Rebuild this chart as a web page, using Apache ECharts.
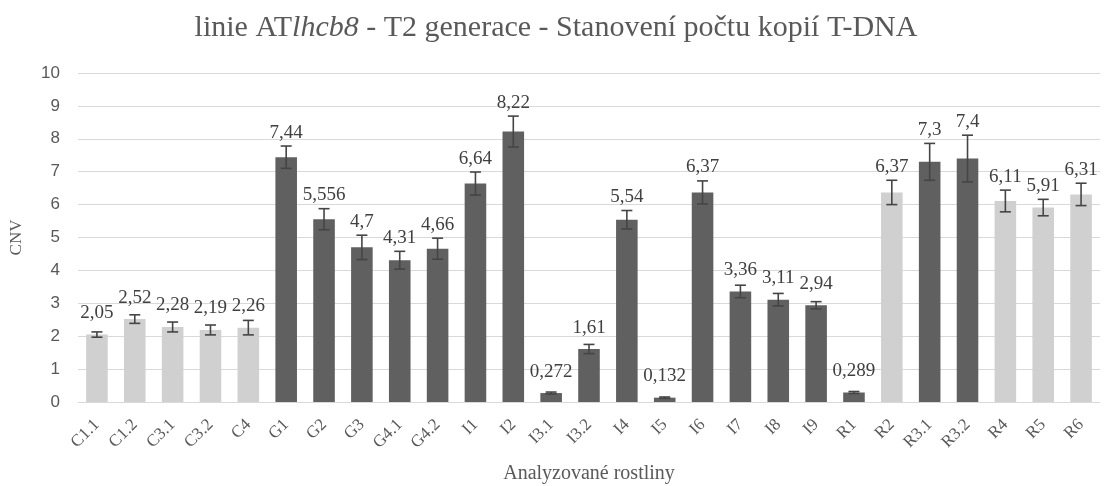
<!DOCTYPE html>
<html>
<head>
<meta charset="utf-8">
<script src="https://cdn.jsdelivr.net/npm/echarts@6/dist/echarts.min.js"></script>
<style>html,body{margin:0;padding:0;background:#fff;}#c{width:1112px;height:486px;}</style>
</head>
<body>
<div id="c"></div>
<script>
const categories = ['C1.1','C1.2','C3.1','C3.2','C4','G1','G2','G3','G4.1','G4.2','I1','I2','I3.1','I3.2','I4','I5','I6','I7','I8','I9','R1','R2','R3.1','R3.2','R4','R5','R6'];
const values = [2.05,2.52,2.28,2.19,2.26,7.44,5.556,4.7,4.31,4.66,6.64,8.22,0.272,1.61,5.54,0.132,6.37,3.36,3.11,2.94,0.289,6.37,7.3,7.4,6.11,5.91,6.31];
const errors = [0.08,0.13,0.15,0.15,0.22,0.34,0.32,0.37,0.27,0.32,0.35,0.47,0.03,0.14,0.28,0.02,0.35,0.19,0.19,0.11,0.03,0.37,0.56,0.71,0.33,0.25,0.34];
const shade = ['light','light','light','light','light','dark','dark','dark','dark','dark','dark','dark','dark','dark','dark','dark','dark','dark','dark','dark','dark','light','dark','dark','light','light','light'];
const yTicks = [0,1,2,3,4,5,6,7,8,9,10];

const colors = {light:'#d0d0d0', dark:'#606060'};
const serif = '"Liberation Serif","DejaVu Serif",serif';
const sans = '"Liberation Sans","DejaVu Sans",sans-serif';

const chart = echarts.init(document.getElementById('c'), null, {renderer:'canvas'});
chart.setOption({
  animation:false,
  backgroundColor:'#fff',
  title:{
    text:'{a|linie AT}{b|lhcb8}{a| - T2 generace - Stanovení počtu kopií T-DNA}',
    left:'center', top:8,
    textStyle:{
      rich:{
        a:{fontFamily:serif,fontSize:30,color:'#595959',fontWeight:'normal'},
        b:{fontFamily:serif,fontSize:30,color:'#595959',fontStyle:'italic',fontWeight:'normal'}
      }
    }
  },
  grid:{left:78,right:12,top:73,bottom:84,containLabel:false,outerBoundsMode:'none'},
  xAxis:{
    type:'category',
    data:categories,
    name:'Analyzované rostliny',
    nameLocation:'middle',
    nameGap:62,
    nameTextStyle:{fontFamily:serif,fontSize:20,color:'#595959'},
    axisLine:{lineStyle:{color:'#d9d9d9',width:1}},
    axisTick:{show:false},
    axisLabel:{rotate:45,interval:0,margin:20,fontFamily:serif,fontSize:17,color:'#595959'}
  },
  yAxis:{
    type:'value',
    min:yTicks[0], max:yTicks[yTicks.length-1], interval:1,
    name:'CNV',
    nameLocation:'middle',
    nameGap:53,
    nameTextStyle:{fontFamily:serif,fontSize:17,color:'#595959'},
    axisLine:{show:false},
    axisTick:{show:false},
    splitLine:{lineStyle:{color:'#d9d9d9',width:1}},
    axisLabel:{fontFamily:sans,fontSize:17,color:'#595959',margin:18}
  },
  series:[
    {
      type:'bar',
      barWidth:'57%',
      data:values.map((v,i)=>({value:v,itemStyle:{color:colors[shade[i]]}})),
      silent:true
    },
    {
      type:'custom',
      silent:true,
      data:values.map((v,i)=>[i,v,errors[i]]),
      z:5,
      renderItem:function(params, api){
        const i = api.value(0), v = api.value(1), e = api.value(2);
        const top = api.coord([i, v+e]);
        const bot = api.coord([i, v-e]);
        const barTop = api.coord([i, v]);
        const cap = 5.5;
        const st = {stroke:'#454545', lineWidth:1.6};
        const errPx = bot[1]-top[1];
        const gap = Math.max(12, errPx/2 + 4);
        const label = String(values[i]).replace('.', ',');
        return {
          type:'group',
          children:[
            {type:'line',shape:{x1:top[0],y1:top[1],x2:bot[0],y2:bot[1]},style:st},
            {type:'line',shape:{x1:top[0]-cap,y1:top[1],x2:top[0]+cap,y2:top[1]},style:st},
            {type:'line',shape:{x1:bot[0]-cap,y1:bot[1],x2:bot[0]+cap,y2:bot[1]},style:st},
            {type:'text',style:{text:label,x:barTop[0],y:barTop[1]-gap,align:'center',verticalAlign:'bottom',
              fontFamily:serif,fontSize:19,fill:'#404040'}}
          ]
        };
      }
    }
  ]
});
</script>
</body>
</html>
